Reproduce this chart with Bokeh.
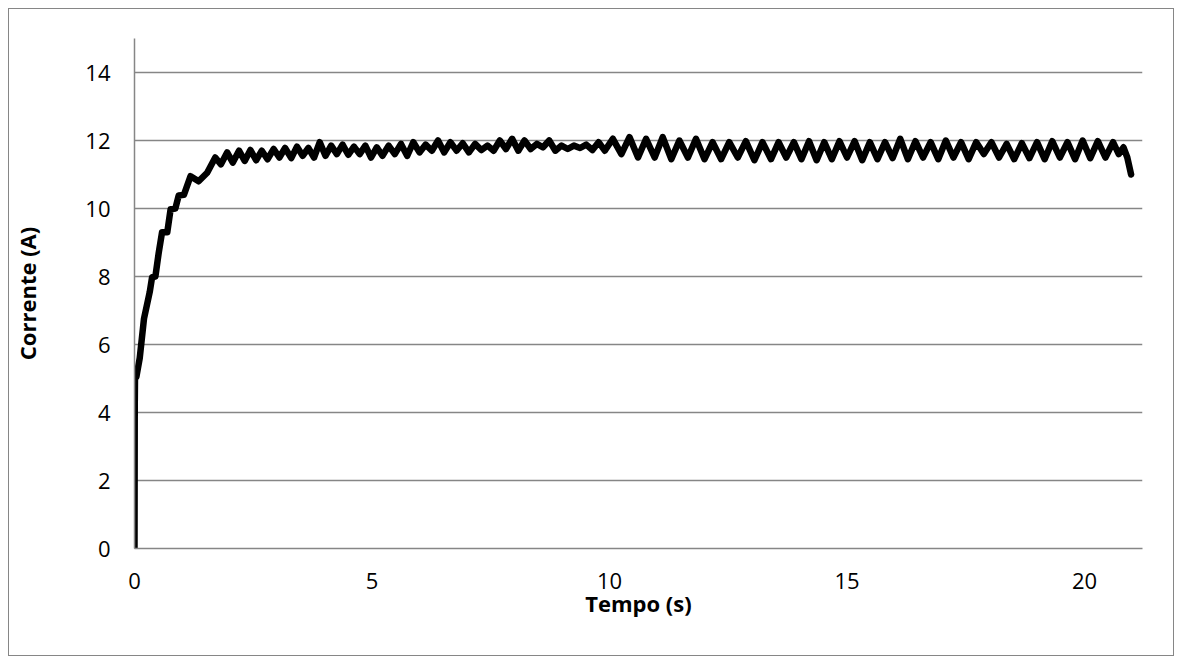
from bokeh.plotting import figure
from bokeh.models import Range1d, FixedTicker, ColumnDataSource
from bokeh.embed import file_html
from bokeh.resources import INLINE

# ---- data ----
t_rise = [0, 0.005, 0.01, 0.04, 0.11, 0.2, 0.32, 0.37, 0.44, 0.51, 0.58, 0.69, 0.76,
          0.86, 0.93, 1.04, 1.18, 1.35, 1.53, 1.7]
i_rise = [0, 4.1, 5.0, 5.05, 5.6, 6.76, 7.54, 7.98, 8.0, 8.7, 9.3, 9.3, 9.98,
          10.0, 10.38, 10.4, 10.95, 10.8, 11.05, 11.5]

t_early = [1.82, 1.95, 2.07, 2.2, 2.32, 2.44, 2.56, 2.68, 2.8, 2.93, 3.05, 3.17, 3.3,
           3.42, 3.54, 3.66, 3.78, 3.9, 4.02, 4.14, 4.26, 4.38, 4.5, 4.62, 4.74, 4.86,
           4.98, 5.1, 5.22]
i_early = [11.3, 11.65, 11.35, 11.7, 11.4, 11.72, 11.42, 11.7, 11.45, 11.75, 11.5, 11.78,
           11.48, 11.82, 11.55, 11.78, 11.5, 11.95, 11.55, 11.85, 11.6, 11.88, 11.58,
           11.82, 11.6, 11.85, 11.5, 11.8, 11.55]

t_mid = [5.35, 5.48, 5.61, 5.74, 5.87, 6.0, 6.13, 6.26, 6.39, 6.52, 6.65, 6.78, 6.91,
         7.04, 7.17, 7.3, 7.43, 7.56, 7.69, 7.82, 7.95, 8.08, 8.21, 8.34, 8.47, 8.6,
         8.73, 8.86, 8.99, 9.12, 9.25, 9.38, 9.51, 9.64, 9.77, 9.9]
i_mid = [11.85, 11.6, 11.9, 11.55, 11.95, 11.65, 11.88, 11.7, 12.0, 11.65, 11.95, 11.7,
         11.92, 11.65, 11.9, 11.72, 11.85, 11.7, 12.0, 11.75, 12.05, 11.7, 12.0, 11.75,
         11.9, 11.8, 12.0, 11.7, 11.85, 11.75, 11.85, 11.78, 11.88, 11.72, 11.95, 11.7]

t_late = [10.07, 10.25, 10.42, 10.6, 10.77, 10.95, 11.12, 11.3, 11.47, 11.65, 11.82,
          12.0, 12.17, 12.35, 12.52, 12.7, 12.87, 13.05, 13.22, 13.4]
i_late = [12.05, 11.6, 12.1, 11.5, 12.05, 11.5, 12.1, 11.45, 12.0, 11.5, 12.05, 11.45,
          11.95, 11.45, 11.95, 11.5, 11.98, 11.42, 11.95, 11.45]

t_end = [13.56, 13.72, 13.88, 14.04, 14.2, 14.36, 14.52, 14.68, 14.84, 15.0, 15.16,
         15.32, 15.48, 15.64, 15.8, 15.96, 16.12, 16.28, 16.44, 16.6, 16.76, 16.92,
         17.08, 17.24, 17.4, 17.56, 17.72, 17.88, 18.04, 18.2, 18.36, 18.52, 18.68,
         18.84, 19.0, 19.16, 19.32, 19.48, 19.64, 19.8, 19.96, 20.12, 20.28, 20.44,
         20.6, 20.72, 20.82, 20.9, 20.98]
i_end = [11.95, 11.5, 11.95, 11.45, 11.98, 11.42, 11.95, 11.45, 11.98, 11.5, 11.98,
         11.42, 11.95, 11.45, 11.95, 11.48, 12.05, 11.45, 11.98, 11.5, 11.95, 11.45,
         12.0, 11.5, 11.95, 11.45, 11.95, 11.6, 11.95, 11.5, 11.9, 11.45, 11.92,
         11.48, 11.95, 11.45, 11.98, 11.5, 11.95, 11.45, 12.0, 11.48, 11.98, 11.5,
         11.95, 11.6, 11.8, 11.5, 11.0]

x_ticks = [0, 5, 10, 15, 20]
y_ticks = [0, 2, 4, 6, 8, 10, 12, 14]
x_label = "Tempo (s)"
y_label = "Corrente (A)"

tempo = t_rise + t_early + t_mid + t_late + t_end
corrente = i_rise + i_early + i_mid + i_late + i_end
src = ColumnDataSource(dict(t=tempo, i=corrente))

GRAY = "#868686"
FONT = "Open Sans"

p = figure(width=1166, height=648, output_backend="svg", toolbar_location=None,
           x_range=Range1d(0, 21.22), y_range=Range1d(0, 15),
           min_border_left=125, min_border_right=33, min_border_top=29,
           min_border_bottom=109)
p.styles = {"border": f"1px solid {GRAY}", "margin-left": "8px", "margin-top": "8px"}
p.outline_line_color = None
p.background_fill_color = "white"
p.border_fill_color = "white"

p.line("t", "i", source=src, line_color="black", line_width=6.5,
       line_join="round", line_cap="round")

p.xaxis.ticker = FixedTicker(ticks=x_ticks)
p.yaxis.ticker = FixedTicker(ticks=y_ticks)
for ax in (p.xaxis, p.yaxis):
    ax.major_tick_out = 0
    ax.major_tick_in = 0
    ax.minor_tick_out = 0
    ax.minor_tick_in = 0
    ax.axis_line_color = GRAY
    ax.axis_line_width = 1.5
    ax.major_label_text_font = FONT
    ax.major_label_text_font_size = "22px"
    ax.major_label_text_color = "black"
    ax.axis_label_text_font = FONT
    ax.axis_label_text_font_size = "22px"
    ax.axis_label_text_font_style = "bold"
    ax.axis_label_text_color = "black"

p.xaxis.axis_label = x_label
p.yaxis.axis_label = y_label
p.xaxis.major_label_standoff = 24
p.xaxis.axis_label_standoff = -4
p.yaxis.major_label_standoff = 24
p.yaxis.axis_label_standoff = 40

p.xgrid.grid_line_color = None
p.ygrid.grid_line_color = GRAY
p.ygrid.grid_line_width = 1.5

open("out.html", "w").write(file_html(p, INLINE))
